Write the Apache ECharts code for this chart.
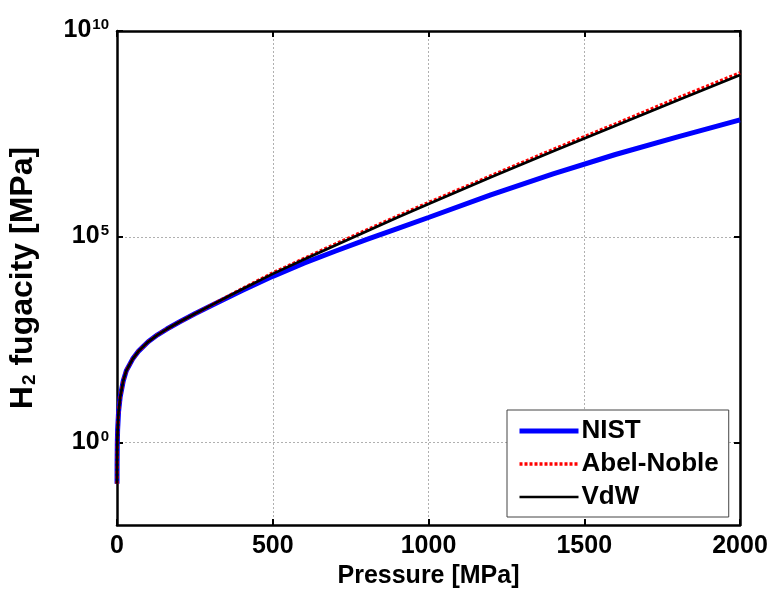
<!DOCTYPE html>
<html>
<head>
<meta charset="utf-8">
<script src="https://cdn.jsdelivr.net/npm/echarts@6/dist/echarts.min.js"></script>
<style>
html,body{margin:0;padding:0;background:#fff;}
#chart{width:773px;height:592px;}
</style>
</head>
<body>
<div id="chart"></div>
<script>
// Pressure [MPa]
var pressure = [0.1, 0.3, 1, 2, 5, 10, 20, 30, 50, 70, 100, 130, 160, 200, 250, 300, 400, 500, 600, 700, 800, 900, 1000, 1200, 1400, 1600, 1800, 2000];
// log10 of H2 fugacity [MPa]
var nistExp = [-1.0, -0.52, 0.0, 0.31, 0.75, 1.1, 1.5, 1.75, 2.03, 2.23, 2.45, 2.62, 2.76, 2.93, 3.13, 3.32, 3.69, 4.04, 4.36, 4.65, 4.93, 5.2, 5.47, 6.02, 6.53, 7.0, 7.43, 7.84];
var abelNobleExp = [-1.0, -0.52, 0.0, 0.31, 0.75, 1.1, 1.5, 1.75, 2.03, 2.23, 2.45, 2.62, 2.76, 2.93, 3.13, 3.33, 3.73, 4.12, 4.47, 4.82, 5.16, 5.5, 5.83, 6.48, 7.12, 7.74, 8.37, 8.98];
var vdwExp = [-1.0, -0.52, 0.0, 0.31, 0.75, 1.1, 1.5, 1.75, 2.03, 2.23, 2.45, 2.62, 2.76, 2.93, 3.13, 3.33, 3.72, 4.1, 4.45, 4.79, 5.13, 5.47, 5.8, 6.45, 7.08, 7.7, 8.32, 8.93];
var seriesNames = ['NIST', 'Abel-Noble', 'VdW'];
var xTicks = [0, 500, 1000, 1500, 2000];
var yTickExps = [0, 5, 10];

function pairs(xs, ys) { return xs.map(function (x, i) { return [x, ys[i]]; }); }

var FONT = '"Liberation Sans", Arial, Helvetica, sans-serif';
var chart = echarts.init(document.getElementById('chart'), null, {renderer: 'canvas'});
var axisLineStyle = {color: '#000', width: 2.5};
var gridLine = {show: true, lineStyle: {color: '#b0b0b0', width: 1, type: [2, 2]}};
var seriesStyles = [
  {color: '#0000ff', width: 5},
  {color: '#ff0000', width: 3.5, type: [3, 2]},
  {color: '#000000', width: 2.7}
];

var option = {
  backgroundColor: '#fff',
  animation: false,
  grid: {left: 117, right: 33, top: 31, bottom: 67, outerBoundsMode: 'none', containLabel: false},
  legend: {
    data: seriesNames.map(function (n, i) { return {name: n, lineStyle: seriesStyles[i]}; }),
    orient: 'vertical',
    left: 507, top: 410,
    itemWidth: 59, itemHeight: 12, itemGap: 7,
    padding: [8, 10, 7, 10],
    backgroundColor: '#fff',
    borderColor: '#444', borderWidth: 1,
    itemStyle: {opacity: 0},
    lineStyle: {width: 'inherit'},
    textStyle: {fontFamily: FONT, fontWeight: 'bold', fontSize: 26, color: '#000', padding: [0, 0, 0, -2]}
  },
  xAxis: [{
    type: 'value', min: 0, max: 2000, interval: 500, position: 'bottom',
    name: 'Pressure [MPa]', nameLocation: 'middle', nameGap: 32,
    nameTextStyle: {fontFamily: FONT, fontWeight: 'bold', fontSize: 25, color: '#000'},
    axisLine: {show: true, onZero: false, lineStyle: axisLineStyle},
    axisTick: {show: true, inside: true, length: 6, lineStyle: {color: '#000', width: 2}},
    axisLabel: {show: true, margin: 9, fontFamily: FONT, fontWeight: 'bold', fontSize: 25, color: '#000',
      customValues: xTicks, formatter: function (v) { return String(v); }},
    splitLine: gridLine
  }, {
    type: 'value', min: 0, max: 2000, interval: 500, position: 'top',
    axisLine: {show: true, onZero: false, lineStyle: axisLineStyle},
    axisTick: {show: true, inside: true, length: 6, lineStyle: {color: '#000', width: 2}},
    axisLabel: {show: false}, splitLine: {show: false}
  }],
  yAxis: [{
    type: 'value', min: -2, max: 10, position: 'left',
    name: '{n|H}{sub|2}{n| fugacity [MPa]}', nameLocation: 'middle', nameGap: 78, nameRotate: 90,
    nameTextStyle: {fontFamily: FONT, fontWeight: 'bold', fontSize: 32, color: '#000',
      rich: {
        n: {fontFamily: FONT, fontWeight: 'bold', fontSize: 32, color: '#000', verticalAlign: 'top', lineHeight: 32},
        sub: {fontFamily: FONT, fontWeight: 'bold', fontSize: 19, color: '#000', verticalAlign: 'bottom', lineHeight: 19, padding: [18, 0, 0, 1]}
      }},
    axisLine: {show: true, onZero: false, lineStyle: axisLineStyle},
    axisTick: {show: true, inside: true, length: 6, customValues: yTickExps, lineStyle: {color: '#000', width: 2}},
    axisLabel: {show: true, margin: 8, customValues: yTickExps, padding: [0, 0, 2, 0],
      formatter: function (v) { return '{b|10}{s|' + v + '}'; },
      rich: {
        b: {fontFamily: FONT, fontWeight: 'bold', fontSize: 25, color: '#000', lineHeight: 25, verticalAlign: 'bottom'},
        s: {fontFamily: FONT, fontWeight: 'bold', fontSize: 15, color: '#000', lineHeight: 15, verticalAlign: 'top', padding: [0, 0, 17, 1]}
      }},
    splitLine: gridLine
  }, {
    type: 'value', min: -2, max: 10, position: 'right',
    axisLine: {show: true, onZero: false, lineStyle: axisLineStyle},
    axisTick: {show: true, inside: true, length: 6, customValues: yTickExps, lineStyle: {color: '#000', width: 2}},
    axisLabel: {show: false}, splitLine: {show: false}
  }],
  series: [{
    name: 'NIST', type: 'line', xAxisIndex: 0, yAxisIndex: 0,
    data: pairs(pressure, nistExp), showSymbol: false, symbol: 'none',
    smooth: false,
    lineStyle: seriesStyles[0], itemStyle: {color: '#0000ff'}, z: 2
  }, {
    name: 'Abel-Noble', type: 'line', xAxisIndex: 0, yAxisIndex: 0,
    data: pairs(pressure, abelNobleExp), showSymbol: false, symbol: 'none',
    smooth: false,
    lineStyle: seriesStyles[1], itemStyle: {color: '#ff0000'}, z: 3
  }, {
    name: 'VdW', type: 'line', xAxisIndex: 0, yAxisIndex: 0,
    data: pairs(pressure, vdwExp), showSymbol: false, symbol: 'none',
    smooth: false,
    lineStyle: seriesStyles[2], itemStyle: {color: '#000'}, z: 4
  }]
};
chart.setOption(option);
</script>
</body>
</html>
